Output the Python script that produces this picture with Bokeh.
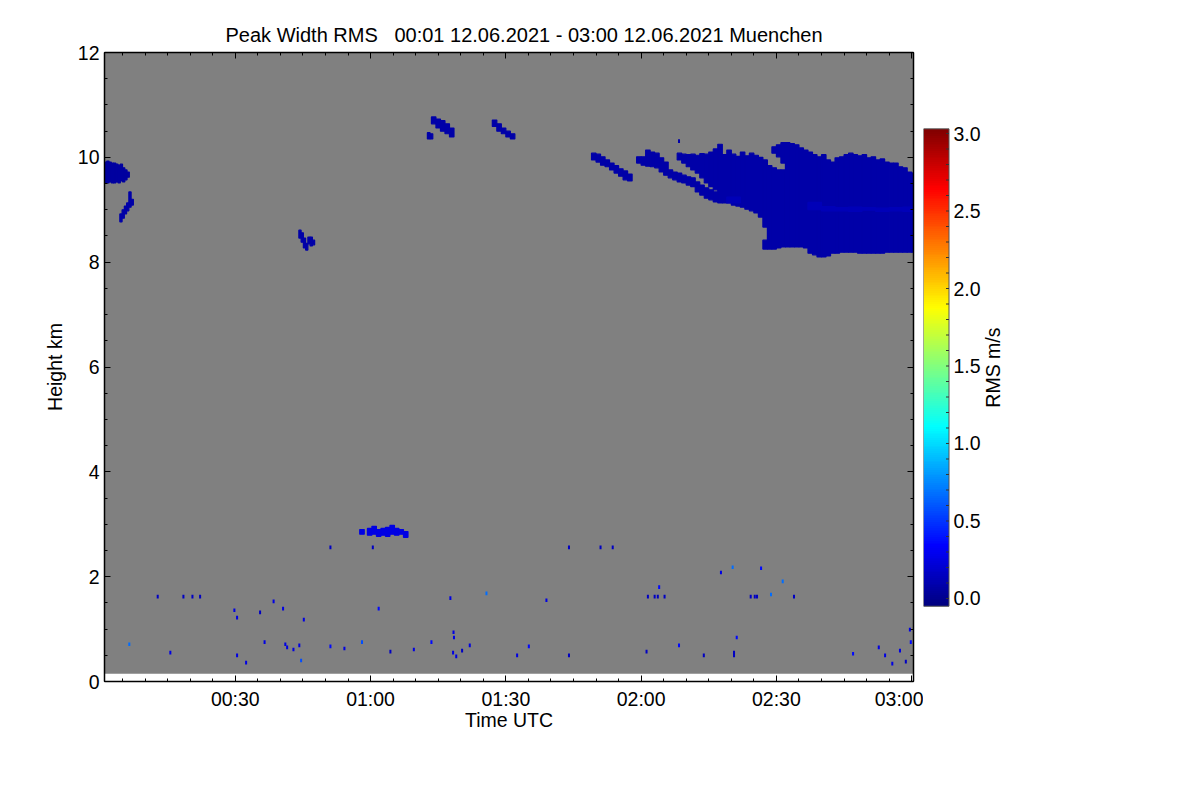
import math
import numpy as np
from bokeh.plotting import figure
from bokeh.models import Range1d, LinearAxis, FixedTicker, LinearColorMapper, ColumnDataSource
from bokeh.layouts import row
from bokeh.transform import transform
from bokeh.core.properties import value
from bokeh.embed import file_html
from bokeh.resources import INLINE

# ---------------- texts ----------------
TITLE = "Peak Width RMS\u00a0\u00a0\u00a000:01 12.06.2021 - 03:00 12.06.2021 Muenchen"
X_LABEL = "Time UTC"
Y_LABEL = "Height km"
CB_LABEL = "RMS m/s"

# ---------------- axes (time in minutes after 00:00 UTC, height in km) ----------------
T_START, T_END = 1.0, 180.4
H_MIN, H_MAX = 0.0, 12.0
GATE_BOTTOM = 0.15          # lowest range gate with data
x_ticks = [30, 60, 90, 120, 150, 180]
x_tick_labels = ["00:30", "01:00", "01:30", "02:00", "02:30", "03:00"]
x_minor = [5 * i for i in range(1, 37)]
y_ticks = [0, 2, 4, 6, 8, 10, 12]
y_minor = [0.5 * i for i in range(0, 25)]
cb_ticks = [0.0, 0.5, 1.0, 1.5, 2.0, 2.5, 3.0]
cb_tick_labels = ["0.0", "0.5", "1.0", "1.5", "2.0", "2.5", "3.0"]
cb_minor = [0.1 * i for i in range(0, 31)]
V_LOW, V_HIGH = 0.0, 3.0

# ---------------- cloud features: column start time, bottom km, top km ----------------
# cirrus top-left
cloud_e_t = [1.0, 1.5, 2.0, 2.5, 3.0, 3.5, 4.0, 4.5, 5.0, 5.5, 6.0]
cloud_e_bot = [9.51, 9.51, 9.53, 9.51, 9.51, 9.53, 9.51, 9.55, 9.53, 9.57, 9.62]
cloud_e_top = [9.91, 9.93, 9.91, 9.89, 9.89, 9.87, 9.85, 9.87, 9.80, 9.76, 9.72]
# fall streak below it
cloud_f_t = [4.4, 4.9, 5.4, 5.9, 6.4, 6.9]
cloud_f_bot = [8.77, 8.84, 8.92, 8.98, 9.05, 9.09]
cloud_f_top = [8.92, 9.00, 9.07, 9.13, 9.34, 9.20]
# small streak near 00:45
cloud_g_t = [44.1, 44.6, 45.1, 45.6, 46.1, 46.6, 47.1]
cloud_g_bot = [8.46, 8.38, 8.27, 8.23, 8.35, 8.31, 8.33]
cloud_g_top = [8.61, 8.56, 8.46, 8.36, 8.48, 8.48, 8.42]
# streak near 01:15 at 10.6 km
cloud_h_t = [73.5, 74.5, 75.5, 76.5, 77.5]
cloud_h_bot = [10.64, 10.56, 10.50, 10.45, 10.39]
cloud_h_top = [10.77, 10.73, 10.70, 10.64, 10.56]
cloud_h2_t = [72.6, 73.2]
cloud_h2_bot = [10.35, 10.35]
cloud_h2_top = [10.47, 10.45]
# streak near 01:28
cloud_i_t = [87, 88, 89, 90, 91]
cloud_i_bot = [10.59, 10.50, 10.45, 10.39, 10.35]
cloud_i_top = [10.71, 10.64, 10.56, 10.50, 10.45]
# low layer at 2.8 km
cloud_j_t = [57.6, 59.3, 60.3, 61.3, 62.3, 63.3, 64.3, 65.3, 66.3, 67.3]
cloud_j_bot = [2.81, 2.79, 2.81, 2.77, 2.79, 2.77, 2.81, 2.79, 2.81, 2.75]
cloud_j_top = [2.90, 2.92, 2.96, 2.90, 2.92, 2.94, 2.98, 2.92, 2.90, 2.86]
# streak near 01:50
cloud_a_t = [109, 110, 111, 112, 113, 114, 115, 116, 117]
cloud_a_bot = [9.95, 9.91, 9.85, 9.82, 9.76, 9.70, 9.64, 9.57, 9.55]
cloud_a_top = [10.08, 10.06, 10.01, 9.95, 9.89, 9.84, 9.78, 9.74, 9.68]
# streak starting 02:00
cloud_b_t = list(range(119, 137))
cloud_b_bot = [9.89, 9.85, 9.83, 9.82, 9.80, 9.72, 9.66, 9.61, 9.57, 9.53, 9.51, 9.47,
               9.44, 9.34, 9.28, 9.22, 9.19, 9.15]
cloud_b_top = [10.01, 10.01, 10.14, 10.10, 10.08, 9.99, 9.91, 9.76, 9.72, 9.70, 9.66, 9.63,
               9.61, 9.53, 9.47, 9.42, 9.38, 9.34]
# main cirrus deck 02:08 - 03:00
cloud_c_t = list(range(128, 181))
cloud_c_bot = [9.95, 9.89, 9.82, 9.76, 9.70, 9.61, 9.51, 9.44, 9.38,
               9.13, 9.13, 9.13, 9.09, 9.07, 9.05, 9.01, 8.98, 8.94, 8.86,
               8.67, 8.25, 8.25, 8.27, 8.29, 8.29, 8.29, 8.29, 8.29, 8.27,
               8.17, 8.14, 8.10, 8.10, 8.12, 8.17, 8.17, 8.19, 8.19, 8.19,
               8.19, 8.17, 8.17, 8.17, 8.17, 8.17, 8.17, 8.19, 8.19, 8.19,
               8.19, 8.19, 8.19, 8.19]
cloud_c_top = [10.08, 10.06, 10.05, 10.06, 10.04, 10.07, 10.06, 10.10, 10.16,
               10.25, 10.05, 10.14, 10.06, 10.02, 10.10, 10.03, 10.08, 10.04, 10.00,
               9.95, 9.84, 9.80, 9.76, 9.76, 10.28, 10.26, 10.24, 10.18, 10.14,
               10.10, 10.05, 10.01, 10.05, 9.95, 9.91, 9.99, 10.01, 10.05, 10.08,
               10.05, 10.03, 10.05, 9.99, 10.01, 9.95, 9.97, 9.91, 9.89, 9.89,
               9.82, 9.80, 9.72, 9.70]
# detached pieces of the deck (shelf base, upper lobe)
cloud_c2_t = [147, 149, 150, 151]
cloud_c2_bot = [8.25, 10.08, 10.01, 9.89]
cloud_c2_top = [8.42, 10.20, 10.24, 10.28]
# slightly larger widths inside the deck
cloud_c3_t = [139, 157, 160, 163, 166, 169, 172, 175, 178]
cloud_c3_bot = [9.13, 9.00, 8.98, 8.98, 8.97, 8.99, 8.97, 8.98, 8.97]
cloud_c3_top = [9.24, 9.14, 9.06, 9.04, 9.05, 9.04, 9.03, 9.04, 9.05]

# isolated echoes: time (min), height (km), RMS (m/s)
speck_t = [6.5, 12.8, 15.6, 18.5, 20.5, 22.2, 29.8, 30.4, 30.4, 32.4, 35.5, 36.5, 38.5,
           40.6, 41.1, 41.5, 42.9, 44.2, 44.6, 45.2, 51.1, 51.1, 54.2, 58.1, 60.5, 61.8,
           64.4, 69.6, 73.5, 77.7, 78.4, 78.5, 78.3, 79.0, 80.3, 82.0, 85.7, 92.5, 95.1,
           99.0, 104.0, 104.0, 111.0, 113.7, 121.2, 121.5, 123.0, 123.7, 124.0, 125.2,
           128.4, 128.4, 133.9, 137.7, 140.3, 140.6, 140.6, 141.2, 144.3, 145.2, 145.7,
           146.6, 148.8, 151.4, 153.9, 167.0, 172.7, 174.1, 175.7, 177.4, 178.7, 179.6,
           179.8]
speck_h = [0.71, 1.62, 0.55, 1.62, 1.62, 1.62, 1.36, 1.22, 0.50, 0.36, 1.32, 0.75, 1.53,
           1.39, 0.71, 0.65, 0.61, 0.69, 0.40, 1.18, 2.56, 0.67, 0.63, 0.75, 2.56, 1.39,
           0.57, 0.61, 0.75, 1.59, 0.94, 0.84, 0.55, 0.48, 0.59, 0.69, 1.68, 0.50, 0.67,
           1.55, 2.56, 0.50, 2.56, 2.56, 0.57, 1.62, 1.62, 1.62, 1.80, 1.62,
           0.69, 10.31, 0.50, 2.08, 2.18, 0.55, 0.50, 0.84, 1.62, 1.62, 1.62,
           2.16, 1.66, 1.91, 1.62, 0.53, 0.65, 0.50, 0.34, 0.59, 0.38, 0.99,
           0.75]
speck_v = [0.7, 0.2, 0.3, 0.2, 0.2, 0.2, 0.3, 0.3, 0.3, 0.3, 0.2, 0.3, 0.3,
           0.3, 0.3, 0.3, 0.3, 0.3, 0.6, 0.3, 0.2, 0.4, 0.3, 0.6, 0.2, 0.4,
           0.2, 0.3, 0.4, 0.3, 0.3, 0.3, 0.3, 0.3, 0.2, 0.3, 0.7, 0.3, 0.4,
           0.3, 0.2, 0.2, 0.2, 0.2, 0.2, 0.2, 0.2, 0.2, 0.4, 0.2,
           0.4, 0.12, 0.2, 0.3, 0.7, 0.2, 0.2, 0.4, 0.2, 0.2, 0.2,
           0.4, 0.7, 0.7, 0.2, 0.4, 0.3, 0.3, 0.3, 0.3, 0.2, 0.3,
           0.4]

# ---------------- styling ----------------
FONT = "Liberation Sans"
FS = "19.5px"
TITLE_FS = "20px"
GRAY = "#808080"
SPECK_W, SPECK_H = 0.45, 0.07


def jet(n=256):
    cols = []
    for i in range(n):
        f = i / (n - 1)
        r = min(max(1.5 - abs(4 * f - 3), 0), 1)
        g = min(max(1.5 - abs(4 * f - 2), 0), 1)
        b = min(max(1.5 - abs(4 * f - 1), 0), 1)
        cols.append("#%02x%02x%02x" % (round(r * 255), round(g * 255), round(b * 255)))
    return cols


PALETTE = jet()
mapper = LinearColorMapper(palette=PALETTE, low=V_LOW, high=V_HIGH)

features = [
    (cloud_e_t, cloud_e_bot, cloud_e_top, 0.5, 0.10),
    (cloud_f_t, cloud_f_bot, cloud_f_top, 0.5, 0.12),
    (cloud_g_t, cloud_g_bot, cloud_g_top, 0.5, 0.12),
    (cloud_h_t, cloud_h_bot, cloud_h_top, 1.0, 0.12),
    (cloud_h2_t, cloud_h2_bot, cloud_h2_top, 0.6, 0.12),
    (cloud_i_t, cloud_i_bot, cloud_i_top, 1.0, 0.12),
    (cloud_j_t, cloud_j_bot, cloud_j_top, 1.0, 0.30),
    (cloud_a_t, cloud_a_bot, cloud_a_top, 1.0, 0.12),
    (cloud_b_t, cloud_b_bot, cloud_b_top, 1.0, 0.12),
    (cloud_c_t, cloud_c_bot, cloud_c_top, 1.0, 0.12),
    (cloud_c2_t, cloud_c2_bot, cloud_c2_top, 1.0, 0.12),
    (cloud_c3_t, cloud_c3_bot, cloud_c3_top, 3.0, 0.17),
]
cL, cR, cB, cT, cV = [], [], [], [], []
for ts, bs, tops, dt, v in features:
    for t, b, tp in zip(ts, bs, tops):
        cL.append(t)
        cR.append(t + dt)
        cB.append(b)
        cT.append(tp)
        cV.append(v)
cells = ColumnDataSource(dict(left=cL, right=cR, bottom=cB, top=cT, v=cV))
specks = ColumnDataSource(dict(t=speck_t, h=speck_h, v=speck_v))

# ---------------- layout (pixels) ----------------
BORDER_TOP, BORDER_BOTTOM = 52, 79
FIG_H = 760

# ---------------- main figure ----------------
p = figure(width=923, height=FIG_H, x_range=Range1d(T_START, T_END), y_range=Range1d(H_MIN, H_MAX),
           output_backend="svg", toolbar_location=None, title=TITLE,
           min_border_left=104, min_border_right=10, min_border_top=BORDER_TOP,
           min_border_bottom=BORDER_BOTTOM,
           background_fill_color="white", border_fill_color="white",
           outline_line_color="black")
p.xgrid.visible = False
p.ygrid.visible = False
bottom_ax = p.xaxis[0]
left_ax = p.yaxis[0]

p.quad(left=[T_START], right=[T_END], bottom=[GATE_BOTTOM], top=[H_MAX],
       fill_color=GRAY, line_color=None)
p.quad(left="left", right="right", bottom="bottom", top="top", source=cells,
       fill_color=transform("v", mapper), line_color=transform("v", mapper), line_width=1.2)
p.rect(x="t", y="h", width=SPECK_W, height=SPECK_H, source=specks,
       fill_color=transform("v", mapper), line_color=None)

top_ax = LinearAxis()
right_ax = LinearAxis()
p.add_layout(top_ax, "above")
p.add_layout(right_ax, "right")

xt = FixedTicker(ticks=x_ticks, minor_ticks=x_minor)
yt = FixedTicker(ticks=y_ticks, minor_ticks=y_minor)
bottom_ax.ticker = xt
top_ax.ticker = xt
left_ax.ticker = yt
right_ax.ticker = yt
bottom_ax.major_label_overrides = dict(zip(x_ticks, x_tick_labels))

for ax in [bottom_ax, left_ax, top_ax, right_ax]:
    ax.major_tick_in = 6
    ax.major_tick_out = 0
    ax.minor_tick_in = 3
    ax.minor_tick_out = 0
    ax.axis_line_width = 1.5
    ax.axis_line_color = "black"
    ax.major_tick_line_color = "black"
    ax.minor_tick_line_color = "black"
    ax.major_tick_line_width = 1
    ax.minor_tick_line_width = 1
    ax.major_label_text_font = FONT
    ax.major_label_text_font_size = FS
    ax.major_label_text_color = "black"
    ax.axis_label_text_font = FONT
    ax.axis_label_text_font_size = FS
    ax.axis_label_text_font_style = "normal"
    ax.axis_label_text_color = "black"

# mirrored axes: ticks only, labels not drawn
for ax in [top_ax, right_ax]:
    ax.major_label_text_font_size = "1px"
    ax.major_label_text_color = None
    ax.major_label_standoff = 0

bottom_ax.axis_label = X_LABEL
bottom_ax.major_label_standoff = 6
bottom_ax.axis_label_standoff = -4
left_ax.axis_label = Y_LABEL
left_ax.major_label_standoff = 5
left_ax.axis_label_standoff = 9

p.title.text_font = FONT
p.title.text_font_size = TITLE_FS
p.title.text_font_style = "normal"
p.title.text_color = "black"
p.title.align = "left"
p.title.offset = 121
p.title.standoff = 13

# ---------------- colour bar ----------------
BAR_W = 25.5
BAR_LO, BAR_HI = -0.05, 3.03
cb = figure(width=110, height=FIG_H, x_range=Range1d(0, 110), y_range=Range1d(-0.5355, 3.5226),
            output_backend="svg", toolbar_location=None,
            min_border_left=0, min_border_right=0, min_border_top=BORDER_TOP,
            min_border_bottom=BORDER_BOTTOM,
            outline_line_color=None, x_axis_location=None, y_axis_location=None,
            background_fill_color="white", border_fill_color="white")
cb.grid.visible = False
grad = np.linspace(V_LOW, V_HIGH, 256).reshape(256, 1)
cb.image(image=[grad], x=0, y=BAR_LO, dw=BAR_W, dh=BAR_HI - BAR_LO, color_mapper=mapper)
cb.quad(left=[0], right=[BAR_W], bottom=[BAR_LO], top=[BAR_HI], fill_color=None,
        line_color="#555555", line_width=1)
cb.segment(x0=[BAR_W] * len(cb_minor), x1=[BAR_W - 3] * len(cb_minor), y0=cb_minor, y1=cb_minor,
           line_color="#333333", line_width=1)
cb.text(x=[30] * len(cb_ticks), y=cb_ticks, text=cb_tick_labels, text_font=value(FONT),
        text_font_size=value(FS), text_color="black", text_align="left", text_baseline="middle")
cb.text(x=[69], y=[(BAR_LO + BAR_HI) / 2], text=[CB_LABEL], angle=math.pi / 2,
        text_font=value(FONT), text_font_size=value(FS), text_color="black",
        text_align="center", text_baseline="middle")

layout = row(p, cb)
open("out.html", "w").write(file_html(layout, INLINE))
